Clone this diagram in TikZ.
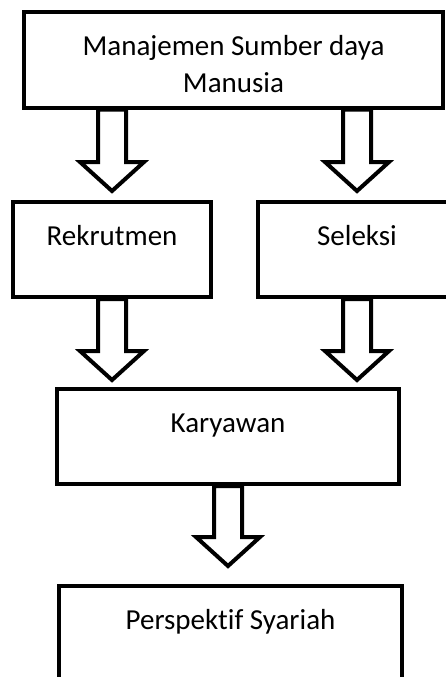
\documentclass[tikz,border=0pt]{standalone}
\usepackage{fontspec}
\setmainfont{Carlito}[Ligatures=NoCommon]
\usetikzlibrary{calc}

\newcommand{\panah}[3]{%
  \draw[panahblok] let \p1=#1, \p2=($#2+(0,-#3)$) in
    (\x1-14pt,\y1) -- (\x1-14pt,\y2+29pt) -- (\x1-32pt,\y2+29pt) -- (\x1,\y2)
    -- (\x1+32pt,\y2+29pt) -- (\x1+14pt,\y2+29pt) -- (\x1+14pt,\y1) -- cycle;}

\begin{document}
\begin{tikzpicture}[x=1pt, y=-1pt,
    kotak/.style={draw=black, line width=4pt, rectangle, inner sep=0pt,
      text height=43pt, text depth=52pt, font=\fontsize{29}{37}\selectfont},
    panahblok/.style={draw=black, line width=4pt}]
        \useasboundingbox (0,0) rectangle (446,677);
        \clip (0,0) rectangle (446,677);

        \node[kotak, minimum width=419pt, align=center, text height=80pt, text depth=15pt] (msdm) at (233.5,60) {Manajemen Sumber daya\\Manusia};
        \node[kotak, minimum width=198pt] (rekrutmen) at (112,249.5) {Rekrutmen};
        \node[kotak, minimum width=198pt] (seleksi) at (357,249.5) {Seleksi};
        \node[kotak, minimum width=342pt] (karyawan) at (228,436.5) {Karyawan};
        \node[kotak, minimum width=343pt] (syariah) at (230.5,633.5) {Perspektif Syariah};

        \panah{(msdm.south -| rekrutmen)}{(rekrutmen.north)}{9}
        \panah{(msdm.south -| seleksi)}{(seleksi.north)}{9}
        \panah{(rekrutmen.south)}{(karyawan.north -| rekrutmen)}{7}
        \panah{(seleksi.south)}{(karyawan.north -| seleksi)}{7}
        \panah{(karyawan.south)}{(syariah.north -| karyawan)}{18}
    \end{tikzpicture}
\end{document}
